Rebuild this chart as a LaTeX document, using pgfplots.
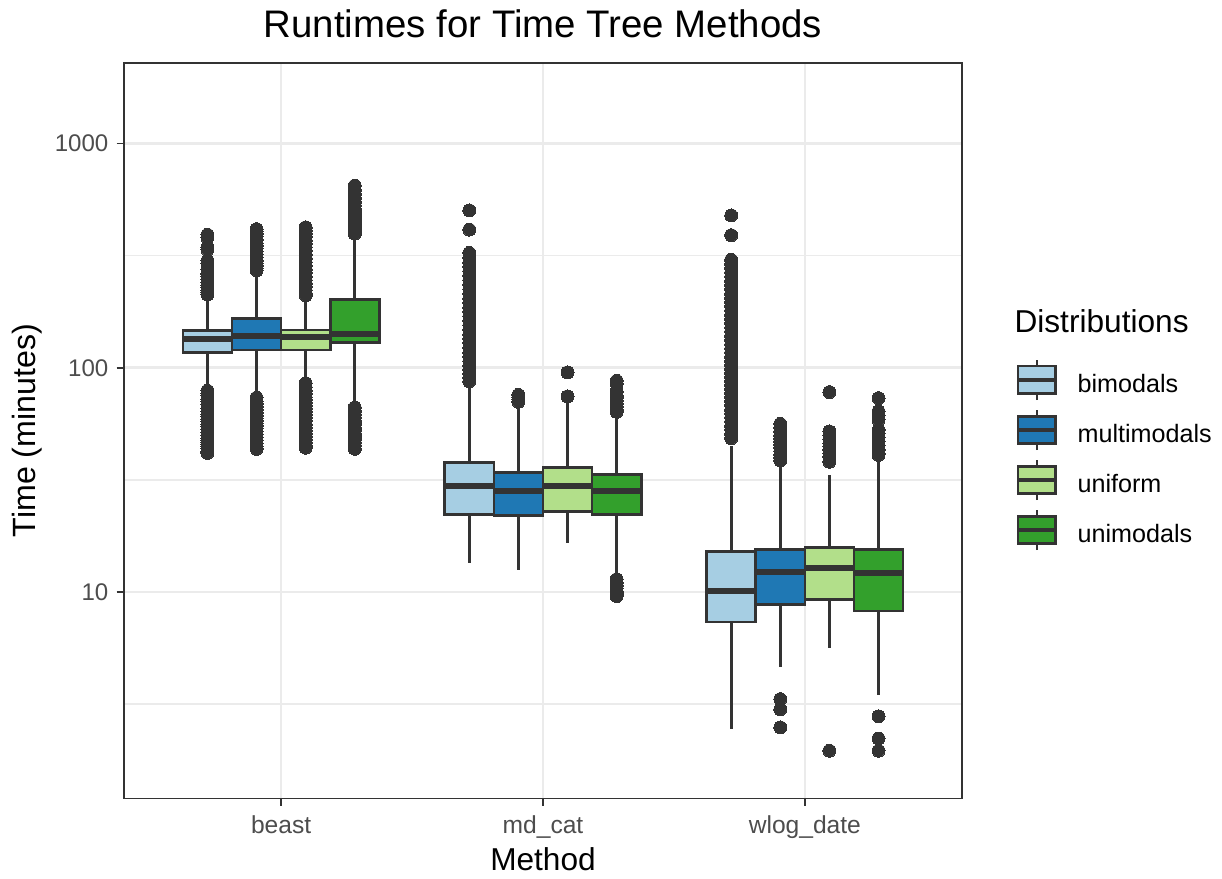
\documentclass[border=0pt]{standalone}
\usepackage{fontspec}
\setmainfont{Liberation Sans}
\usepackage{pgfplots}
\pgfplotsset{compat=1.18}
\usepgfplotslibrary{statistics}

\definecolor{gray20}{HTML}{333333}
\definecolor{gray30}{HTML}{4D4D4D}
\definecolor{gray92}{HTML}{EBEBEB}
\definecolor{cBi}{HTML}{A6CEE3}
\definecolor{cMu}{HTML}{1F78B4}
\definecolor{cUf}{HTML}{B2DF8A}
\definecolor{cUm}{HTML}{33A02C}

\pgfplotsset{
  rbox/.style={
    color=gray20, solid, line width=1pt, forget plot,
    mark=*, mark size=2.4pt,
    mark options={fill=gray20, draw=gray20, line width=0pt},
    boxplot/draw direction=y,
    boxplot/whisker extend=0,
    boxplot/every box/.style={draw=gray20, fill=#1, line width=1pt},
    boxplot/every median/.style={draw=gray20, line width=2.2pt},
    boxplot/every whisker/.style={draw=gray20, line width=1pt},
  },
}

% legend key: box with median and whiskers
\newcommand{\boxkey}[1]{\addlegendimage{legend image code/.code={
  \draw[draw=gray20, line width=0.9pt] (7pt,-5.4pt) -- (7pt,9.6pt);
  \draw[draw=gray20, line width=0.9pt, fill=#1] (0pt,-2.9pt) rectangle (14pt,7.1pt);
  \draw[draw=gray20, line width=1.4pt] (0pt,2.1pt) -- (14pt,2.1pt);
}}}

\begin{document}
\begin{tikzpicture}
\begin{axis}[
  at={(45.866pt,-295.35pt)}, anchor=south west,
  scale only axis, width=309.96pt, height=272.05pt,
  xmin=0.4, xmax=3.6, ymode=log, ymin=1.2, ymax=2286,
  xtick={1,2,3}, xticklabels={beast,md\_cat,wlog\_date},
  ytick={10,100,1000}, yticklabels={10,100,1000},
  minor ytick={3.1623,31.623,316.23},
  xmajorgrids, ymajorgrids, yminorgrids,
  major grid style={draw=gray92, line width=1pt},
  minor grid style={draw=gray92, line width=0.5pt},
  axis line style={draw=gray20, line width=0.6pt},
  tick align=outside, xtick pos=left, ytick pos=left,
  major tick length=2.75pt, minor tick length=0pt,
  tick style={draw=gray20, line width=0.6pt},
  xticklabel style={font=\fontsize{9.1}{11}\selectfont, text=gray30},
  yticklabel style={font=\fontsize{8.9}{11}\selectfont, text=gray30, xshift=0.5pt},
  legend cell align=left,
  legend style={at={(axis description cs:1.0644,0.5985)}, anchor=north west,
    draw=none, fill=none, inner sep=0pt, outer sep=0pt,
    row sep=2.6pt, column sep=7.4pt,
    nodes={inner sep=0pt, text=black, font=\fontsize{9.3}{11}\selectfont}},
]
\boxkey{cBi}\addlegendentry{bimodals}
\boxkey{cMu}\addlegendentry{multimodals}
\boxkey{cUf}\addlegendentry{uniform}
\boxkey{cUm}\addlegendentry{unimodals}

% ---- beast ----
\addplot[rbox=cBi, boxplot prepared={lower whisker=84, lower quartile=117, median=134.3,
  upper quartile=146.7, upper whisker=205, draw position=0.71875, box extend=0.1875}]
  coordinates {(0,392) (0,380) (0,345) (0,336) (0,300) (0,293) (0,275) (0,262) (0,255)
  (0,247) (0,240) (0,233) (0,227) (0,221) (0,216) (0,212)
  (0,79) (0,77) (0,75) (0,72.5) (0,70.5) (0,68.5) (0,66) (0,64) (0,62) (0,60.5) (0,59)
  (0,57.5) (0,56) (0,54.5) (0,53) (0,51.5) (0,50) (0,48.5) (0,47.5) (0,46.5) (0,45.5)
  (0,44.5) (0,43.5) (0,42.5) (0,41.7)};
\addplot[rbox=cMu, boxplot prepared={lower whisker=76, lower quartile=120, median=139,
  upper quartile=165.5, upper whisker=262, draw position=0.90625, box extend=0.1875}]
  coordinates {(0,415) (0,405) (0,395) (0,385) (0,372) (0,360) (0,350) (0,340) (0,330)
  (0,320) (0,310) (0,300) (0,292) (0,285) (0,278) (0,272)
  (0,73.6) (0,71) (0,69) (0,67) (0,65) (0,63) (0,61) (0,59.5) (0,58) (0,56.5) (0,55)
  (0,53.5) (0,52) (0,50.5) (0,49) (0,47.5) (0,46) (0,44.5) (0,43.5)};
\addplot[rbox=cUf, boxplot prepared={lower whisker=88, lower quartile=120, median=136.5,
  upper quartile=147.3, upper whisker=206, draw position=1.09375, box extend=0.1875}]
  coordinates {(0,423) (0,410) (0,398) (0,385) (0,370) (0,357) (0,345) (0,333) (0,320)
  (0,308) (0,296) (0,285) (0,275) (0,265) (0,255) (0,246) (0,238) (0,230) (0,222)
  (0,215) (0,210.5)
  (0,85.4) (0,82) (0,79) (0,76.5) (0,74) (0,72) (0,70) (0,68) (0,66) (0,64) (0,62)
  (0,60) (0,58) (0,56) (0,54) (0,52.5) (0,51) (0,49.5) (0,48) (0,46.5) (0,45) (0,44)};
\addplot[rbox=cUm, boxplot prepared={lower whisker=70, lower quartile=129.7, median=141.9,
  upper quartile=201.8, upper whisker=385, draw position=1.28125, box extend=0.1875}]
  coordinates {(0,649) (0,620) (0,595) (0,570) (0,550) (0,530) (0,510) (0,495) (0,480)
  (0,465) (0,450) (0,437) (0,425) (0,413) (0,404) (0,396)
  (0,66.5) (0,64) (0,62) (0,60) (0,58) (0,56) (0,54) (0,52.5) (0,51) (0,49.5) (0,48)
  (0,46.5) (0,45) (0,43.5)};

% ---- md_cat ----
\addplot[rbox=cBi, boxplot prepared={lower whisker=13.5, lower quartile=22.2, median=29.7,
  upper quartile=37.7, upper whisker=82, draw position=1.71875, box extend=0.1875}]
  coordinates {(0,503) (0,413) (0,325) (0,310) (0,295) (0,282) (0,270) (0,258) (0,246)
  (0,235) (0,224) (0,214) (0,204) (0,195) (0,186) (0,178) (0,170) (0,162) (0,155)
  (0,148) (0,141) (0,135) (0,129) (0,123) (0,117) (0,112) (0,107) (0,102) (0,98)
  (0,94) (0,90.5) (0,87)};
\addplot[rbox=cMu, boxplot prepared={lower whisker=12.5, lower quartile=22.0, median=28.2,
  upper quartile=34.2, upper whisker=66, draw position=1.90625, box extend=0.1875}]
  coordinates {(0,75.7) (0,74) (0,72) (0,70.5)};
\addplot[rbox=cUf, boxplot prepared={lower whisker=16.5, lower quartile=22.9, median=29.7,
  upper quartile=36, upper whisker=69.8, draw position=2.09375, box extend=0.1875}]
  coordinates {(0,95.3) (0,74.5)};
\addplot[rbox=cUm, boxplot prepared={lower whisker=12.0, lower quartile=22.2, median=28.2,
  upper quartile=33.4, upper whisker=62, draw position=2.28125, box extend=0.1875}]
  coordinates {(0,87.5) (0,85) (0,78.4) (0,75) (0,73.6) (0,71.5) (0,69) (0,67) (0,65)
  (0,63.6)
  (0,11.4) (0,11.0) (0,10.7) (0,10.4) (0,10.1) (0,9.9) (0,9.7) (0,9.6)};

% ---- wlog_date ----
\addplot[rbox=cBi, boxplot prepared={lower whisker=2.46, lower quartile=7.35, median=10.1,
  upper quartile=15.2, upper whisker=45, draw position=2.71875, box extend=0.1875}]
  coordinates {(0,478) (0,390) (0,303) (0,290) (0,278) (0,266) (0,255) (0,244) (0,234)
  (0,224) (0,214) (0,205) (0,196) (0,188) (0,180) (0,172) (0,165) (0,158) (0,151)
  (0,145) (0,139) (0,133) (0,127) (0,122) (0,117) (0,112) (0,107) (0,103) (0,99)
  (0,95) (0,91) (0,87.5) (0,84) (0,80.5) (0,77) (0,74) (0,71) (0,68) (0,65) (0,62.5)
  (0,60) (0,57.5) (0,55) (0,53) (0,50.5) (0,48.5)};
\addplot[rbox=cMu, boxplot prepared={lower whisker=4.64, lower quartile=8.8, median=12.3,
  upper quartile=15.5, upper whisker=38, draw position=2.90625, box extend=0.1875}]
  coordinates {(0,56.2) (0,54) (0,52) (0,50) (0,48.5) (0,47) (0,45.5) (0,44) (0,42.5)
  (0,41) (0,39.8) (0,38.6) (0,3.33) (0,3.0) (0,2.49)};
\addplot[rbox=cUf, boxplot prepared={lower whisker=5.6, lower quartile=9.28, median=12.75,
  upper quartile=15.8, upper whisker=33.3, draw position=3.09375, box extend=0.1875}]
  coordinates {(0,77.9) (0,52) (0,50) (0,48) (0,46) (0,44.5) (0,43) (0,41.5) (0,40)
  (0,38.1) (0,1.96)};
\addplot[rbox=cUm, boxplot prepared={lower whisker=3.47, lower quartile=8.23, median=12.2,
  upper quartile=15.5, upper whisker=40.2, draw position=3.28125, box extend=0.1875}]
  coordinates {(0,73.2) (0,63.8) (0,61) (0,58.6) (0,52.8) (0,51) (0,49) (0,47) (0,45)
  (0,43) (0,41.5) (0,40.9) (0,2.79) (0,2.22) (0,1.96)};
\end{axis}

% titles, placed in pixel units of the 1222 x 878 canvas
\begin{scope}[x=0.369885pt, y=-0.369885pt]
  \node[anchor=base, inner sep=0pt, font=\fontsize{14.2}{16}\selectfont]
    at (543,37.7) {Runtimes for Time Tree Methods};
  \node[anchor=base, inner sep=0pt, font=\fontsize{11.7}{14}\selectfont]
    at (543,870.6) {Method};
  \node[anchor=base, rotate=90, inner sep=0pt, font=\fontsize{11.9}{14}\selectfont]
    at (35.5,430.7) {Time (minutes)};
  \node[anchor=base west, inner sep=0pt, font=\fontsize{11.7}{14}\selectfont]
    at (1014,332.3) {Distributions};
  \pgfresetboundingbox
  \path[use as bounding box] (0,0) rectangle (1222,878);
\end{scope}
\end{tikzpicture}
\end{document}
